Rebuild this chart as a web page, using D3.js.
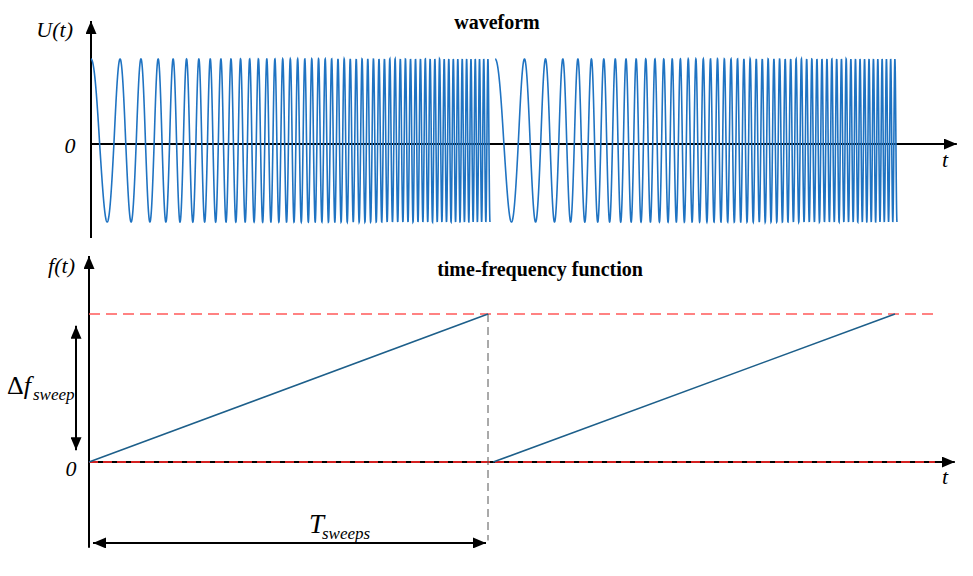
<!DOCTYPE html>
<html>
<head>
<meta charset="utf-8">
<script src="https://cdn.jsdelivr.net/npm/d3@7"></script>
<style>
  body { margin: 0; background: #fff; }
  svg text { font-family: "Liberation Serif", "Times New Roman", "DejaVu Serif", serif; }
</style>
</head>
<body>
<div class="chart"></div>
<script>
const w = 973;
const h = 576;

// sweep segments, time in units of one sweep period
const sweepStart = [0, 1.013];
const sweepEnd = [1, 2.02];
// ramp in the lower panel, normalised to delta f sweep
const rampFreq = [0, 1];
// instantaneous frequency of the drawn waveform (cycles per sweep period)
const waveFreq = [10.6, 96.4];
// extents of axes / guide lines (time units)
const axisEnd = 2.17;
const refEnd = 2.12;

const svg = d3.select(".chart")
  .append("svg")
  .attr("width", w)
  .attr("height", h);

const defs = svg.append("defs");
defs.append("marker")
  .attr("id", "arrow")
  .attr("markerUnits", "userSpaceOnUse")
  .attr("markerWidth", 13)
  .attr("markerHeight", 11)
  .attr("refX", 13)
  .attr("refY", 5.5)
  .attr("orient", "auto-start-reverse")
  .append("path")
  .attr("d", "M0,0 L13,5.5 L0,11 Z")
  .attr("fill", "#000");

//scales
const xTop = d3.scaleLinear().domain([0, 1]).range([91, 490]);
const yTop = d3.scaleLinear().domain([-1, 0, 1]).range([222, 144, 59]);
const xBot = d3.scaleLinear().domain([0, 1]).range([89, 488]);
const yBot = d3.scaleLinear().domain([0, 1]).range([462, 314]);

// small helper for the italic / bold labels
const label = (g, x, y, txt, size, opts = {}) =>
  g.append("text")
    .attr("x", x).attr("y", y)
    .attr("text-anchor", opts.anchor || "start")
    .attr("font-style", opts.italic === false ? "normal" : "italic")
    .attr("font-weight", opts.bold ? "bold" : "normal")
    .attr("font-size", size)
    .text(txt);

// ---------- top panel: waveform ----------
const topPanel = svg.append("g");

topPanel.append("line")
  .attr("x1", xTop(0)).attr("x2", xTop(axisEnd))
  .attr("y1", yTop(0)).attr("y2", yTop(0))
  .attr("stroke", "#000").attr("stroke-width", 2)
  .attr("marker-end", "url(#arrow)");

topPanel.append("line")
  .attr("x1", xTop(0)).attr("x2", xTop(0))
  .attr("y1", 238).attr("y2", 21)
  .attr("stroke", "#000").attr("stroke-width", 2)
  .attr("marker-end", "url(#arrow)");

const wave = (s) => {
  const pts = [];
  const f0 = waveFreq[0], f1 = waveFreq[1];
  const len = sweepEnd[s] - sweepStart[s];
  for (let i = 0; i <= 4000; i++) {
    const tau = i / 4000;
    const phase = 2 * Math.PI * (f0 * tau + (f1 - f0) * tau * tau / 2);
    pts.push([sweepStart[s] + tau * len, Math.cos(phase)]);
  }
  return pts;
};

const waveLine = d3.line()
  .x((d) => xTop(d[0]))
  .y((d) => yTop(d[1]));

sweepStart.forEach((d, i) => {
  topPanel.append("path")
    .attr("d", waveLine(wave(i)))
    .attr("fill", "none")
    .attr("stroke", "#1f73c2")
    .attr("stroke-width", 1.6);
});

label(topPanel, 497, 29, "waveform", 20, { anchor: "middle", italic: false, bold: true });
label(topPanel, 73, 37, "U(t)", 22, { anchor: "end" });
label(topPanel, 70, 153, "0", 22, { anchor: "middle" });
label(topPanel, 945, 167, "t", 22, { anchor: "middle" });

// ---------- bottom panel: time-frequency function ----------
const botPanel = svg.append("g");

botPanel.append("line")
  .attr("x1", xBot(0)).attr("x2", xBot(axisEnd))
  .attr("y1", yBot(0)).attr("y2", yBot(0))
  .attr("stroke", "#000").attr("stroke-width", 2)
  .attr("marker-end", "url(#arrow)");

botPanel.append("line")
  .attr("x1", xBot(0)).attr("x2", xBot(0))
  .attr("y1", yBot(-0.58)).attr("y2", 256)
  .attr("stroke", "#000").attr("stroke-width", 2)
  .attr("marker-end", "url(#arrow)");

// red dashed reference lines at 0 and delta f
[0, 1].forEach((f) => {
  botPanel.append("line")
    .attr("x1", xBot(0)).attr("x2", xBot(refEnd))
    .attr("y1", yBot(f)).attr("y2", yBot(f))
    .attr("stroke", f === 0 ? "#d42020" : "#ff5a5a")
    .attr("stroke-width", f === 0 ? 2 : 1.3)
    .attr("stroke-dasharray", f === 0 ? "9,5" : "11,6");
});

// gray dashed end-of-sweep marker
botPanel.append("line")
  .attr("x1", xBot(sweepEnd[0])).attr("x2", xBot(sweepEnd[0]))
  .attr("y1", yBot(rampFreq[1])).attr("y2", yBot(-0.53))
  .attr("stroke", "#555").attr("stroke-width", 1)
  .attr("stroke-dasharray", "8,5");

const rampLine = d3.line()
  .x((d) => xBot(d[0]))
  .y((d) => yBot(d[1]));

sweepStart.forEach((d, i) => {
  botPanel.append("path")
    .attr("d", rampLine([[sweepStart[i], rampFreq[0]], [sweepEnd[i], rampFreq[1]]]))
    .attr("fill", "none")
    .attr("stroke", "#1d5f8a")
    .attr("stroke-width", 1.6);
});

// delta f sweep double arrow
botPanel.append("line")
  .attr("x1", 76).attr("x2", 76)
  .attr("y1", yBot(0.92)).attr("y2", yBot(0.08))
  .attr("stroke", "#000").attr("stroke-width", 2)
  .attr("marker-start", "url(#arrow)")
  .attr("marker-end", "url(#arrow)");

// T sweeps double arrow
botPanel.append("line")
  .attr("x1", xBot(0.01)).attr("x2", xBot(0.995))
  .attr("y1", yBot(-0.547)).attr("y2", yBot(-0.547))
  .attr("stroke", "#000").attr("stroke-width", 2)
  .attr("marker-start", "url(#arrow)")
  .attr("marker-end", "url(#arrow)");

label(botPanel, 540, 276, "time-frequency function", 20, { anchor: "middle", italic: false, bold: true });
label(botPanel, 75, 273, "f(t)", 22, { anchor: "end" });
label(botPanel, 71, 476, "0", 22, { anchor: "middle" });
label(botPanel, 945, 484, "t", 22, { anchor: "middle" });

const df = label(botPanel, 7, 394, "", 26, { italic: false });
df.append("tspan").text("\u0394");
df.append("tspan").attr("font-style", "italic").text("f");
label(botPanel, 33, 400, "sweep", 17);

label(botPanel, 309, 533, "T", 27);
label(botPanel, 322, 539, "sweeps", 17);
</script>
</body>
</html>
